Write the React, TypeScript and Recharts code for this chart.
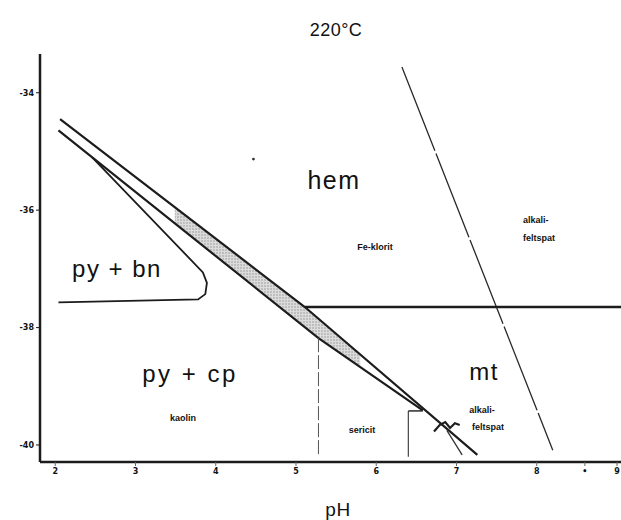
import React from 'react';
import {
  ComposedChart, Line, Area, XAxis, YAxis, ReferenceDot,
} from 'recharts';

// pH / log fO2 values
const upperX = [2.06, 5.11, 7.26];
const upperY = [-34.45, -37.65, -40.17];

const lowerX = [2.04, 5.28, 6.58];
const lowerY = [-34.64, -38.18, -39.41];

const pyBnX = [2.46, 3.84, 3.89, 3.87, 3.78, 2.04];
const pyBnY = [-35.1, -37.06, -37.24, -37.43, -37.52, -37.57];

const steepX = [6.32, 8.2];
const steepY = [-33.56, -40.09];

const hemMtX = [5.11, 9.05];
const hemMtY = [-37.65, -37.65];

const sericitX = [5.28, 5.28];
const sericitY = [-38.18, -40.17];

const sericitRightX = [6.4, 6.4];
const sericitRightY = [-39.42, -40.2];

const shelfX = [6.4, 6.58];
const shelfY = [-39.42, -39.42];

const feltspatX = [6.88, 7.07];
const feltspatY = [-39.75, -40.17];

const wiggleX = [6.72, 6.79, 6.86, 6.92, 6.98, 7.04];
const wiggleY = [-39.77, -39.66, -39.61, -39.71, -39.63, -39.66];

const bandX = [3.49, 5.11, 5.28, 5.8];
const bandLow = [-36.23, -38.0, -38.18, -38.67];
const bandHigh = [-35.95, -37.65, -37.84, -38.45];

const yTicks = [-34, -36, -38, -40];
const xTicks = [2, 3, 4, 5, 6, 7, 8, 8.6, 9];
const xTickLabels = ['2', '3', '4', '5', '6', '7', '8', '•', '9'];

const zip = (xs: number[], ys: number[]) => xs.map((x, i) => ({ x, y: ys[i] }));
const bandData = bandX.map((x, i) => ({ x, band: [bandLow[i], bandHigh[i]] }));

const INK = '#1c1c1c';
const big: React.CSSProperties = {
  position: 'absolute', fontFamily: '"Liberation Sans", Arial, sans-serif', fontSize: 24,
  color: '#111', transform: 'translate(-50%, -50%)', whiteSpace: 'nowrap', letterSpacing: 1.5,
};
const small: React.CSSProperties = {
  position: 'absolute', fontFamily: '"Liberation Sans", Arial, sans-serif', fontSize: 9,
  fontWeight: 'bold', color: '#111', transform: 'translate(-50%, -50%)', whiteSpace: 'nowrap',
};

function L({ xs, ys, w = 2, dash, color = INK }: { xs: number[]; ys: number[]; w?: number; dash?: string; color?: string }) {
  return (
    <Line data={zip(xs, ys)} dataKey="y" type="linear" stroke={color} strokeWidth={w}
      strokeDasharray={dash} dot={false} activeDot={false} isAnimationActive={false} />
  );
}

export default function App() {
  return (
    <div style={{ position: 'absolute', left: 0, top: 0, width: 621, height: 520, background: '#fff' }}>
      <ComposedChart width={621} height={520} data={bandData} margin={{ top: 54, right: 0, bottom: 0, left: 0 }}>
        <defs>
          <pattern id="stipple" width="3" height="3" patternUnits="userSpaceOnUse">
            <rect width="3" height="3" fill="#dcdcdc" />
            <circle cx="1" cy="1" r="0.7" fill="#8a8a8a" />
          </pattern>
        </defs>
        <XAxis type="number" dataKey="x" domain={[1.81, 9.05]} allowDataOverflow ticks={xTicks}
          interval={0} height={58} tickSize={4}
          tickFormatter={(v: number) => xTickLabels[xTicks.indexOf(v)] ?? ''}
          tick={{ fontSize: 8, fontWeight: 'bold', fill: '#111', fontFamily: 'DejaVu Sans' }}
          axisLine={{ stroke: INK, strokeWidth: 2.5 }} tickLine={{ stroke: '#666' }} />
        <YAxis type="number" domain={[-40.29, -33.34]} allowDataOverflow ticks={yTicks} width={40}
          interval={0} tickSize={4}
          tick={{ fontSize: 8, fontWeight: 'bold', fill: '#111', fontFamily: 'DejaVu Sans' }}
          axisLine={{ stroke: INK, strokeWidth: 2.5 }} tickLine={{ stroke: INK }} />
        <Area dataKey="band" type="linear" stroke="none" fill="url(#stipple)" fillOpacity={1}
          isAnimationActive={false} />
        <L xs={upperX} ys={upperY} w={2.2} />
        <L xs={lowerX} ys={lowerY} w={2.2} />
        <L xs={pyBnX} ys={pyBnY} w={1.8} />
        <L xs={steepX} ys={steepY} w={1.3} dash="90 3" color="#2a2a2a" />
        <L xs={hemMtX} ys={hemMtY} w={2.4} />
        <L xs={sericitX} ys={sericitY} w={1} dash="14 3" color="#555" />
        <L xs={sericitRightX} ys={sericitRightY} w={1.2} color="#444" />
        <L xs={shelfX} ys={shelfY} w={1.4} />
        <L xs={feltspatX} ys={feltspatY} w={1.3} color="#333" />
        <L xs={wiggleX} ys={wiggleY} w={2.2} />
        <ReferenceDot x={4.47} y={-35.13} r={1.4} fill="#333" stroke="none" />
      </ComposedChart>

      <div style={{ ...big, left: 336, top: 30, fontSize: 18, letterSpacing: 0.5 }}>220°C</div>
      <div style={{ ...big, left: 338, top: 510, fontSize: 19, letterSpacing: 0.5 }}>pH</div>

      <div style={{ ...big, left: 334, top: 180, fontSize: 25 }}>hem</div>
      <div style={{ ...small, left: 375, top: 247 }}>Fe-klorit</div>
      <div style={{ ...small, left: 523, top: 211, transform: 'none', lineHeight: '18px' }}>alkali-<br />feltspat</div>
      <div style={{ ...big, left: 117, top: 269 }}>py + bn</div>
      <div style={{ ...big, left: 190, top: 374, letterSpacing: 2.5 }}>py + cp</div>
      <div style={{ ...small, left: 183, top: 418 }}>kaolin</div>
      <div style={{ ...small, left: 362, top: 430 }}>sericit</div>
      <div style={{ ...big, left: 484, top: 372 }}>mt</div>
      <div style={{ ...small, left: 482, top: 410 }}>alkali-</div>
      <div style={{ ...small, left: 488, top: 427 }}>feltspat</div>
    </div>
  );
}
